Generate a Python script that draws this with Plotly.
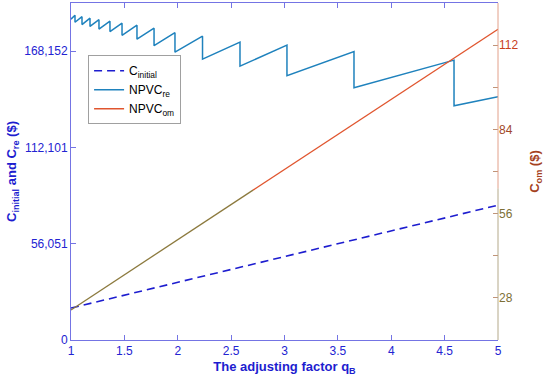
import plotly.graph_objects as go

# ---------------- data ----------------
q_init = [1.0, 5.0]
c_init = [18600, 78500]

q_re = [1.0, 1.0375, 1.0375, 1.103, 1.103, 1.178, 1.178, 1.262, 1.262,
        1.365, 1.365, 1.478, 1.478, 1.618, 1.618, 1.778, 1.778, 1.974, 1.974,
        2.232, 2.232, 2.583, 2.583, 3.023, 3.023, 3.651, 3.651, 4.588, 4.588, 5.0]
npvc_re = [186771, 189098, 184967, 188226, 183629, 187353, 182553, 186480, 181010,
           185607, 179556, 184443, 177345, 183280, 175134, 181534, 171352, 178916, 167570,
           176879, 163497, 173388, 159424, 171643, 153897, 167861, 146798, 162915, 136325, 141561]

q_om = [1.0, 2.705, 5.0]
npvc_om = [24.0, 63.8, 117.3]

x_ticks = [1, 1.5, 2, 2.5, 3, 3.5, 4, 4.5, 5]
x_ticktext = ["1", "1.5", "2", "2.5", "3", "3.5", "4", "4.5", "5"]
yl_ticks = [0, 56051, 112101, 168152]
yl_ticktext = ["0", "56,051", "112,101", "168,152"]
yr_ticks = [28, 42, 56, 70, 84, 98, 112]
yr_labels = ["28", "", "56", "", "84", "", "112"]
yr_colors = ["#7d6f35", "#7d6f35", "#7d6f35", "#8a5a2a", "#a2482a", "#b8421f", "#c8401c"]

# ---------------- figure ----------------
BLUE_TXT = "#2323d2"
AX_BLUE = "#7474e4"
RE_COL = "#1f82bd"
INIT_COL = "#1d1dcf"
OM_RED = "#e0552e"
OM_OLIVE = "#8c7a3e"

fig = go.Figure()
fig.add_trace(go.Scatter(x=q_init, y=c_init, mode="lines", name="C<sub>initial</sub>",
                         line=dict(color=INIT_COL, width=1.6, dash="8px,5px")))
fig.add_trace(go.Scatter(x=q_re, y=npvc_re, mode="lines", name="NPVC<sub>re</sub>",
                         line=dict(color=RE_COL, width=1.5)))
fig.add_trace(go.Scatter(x=q_om[1:], y=npvc_om[1:], mode="lines", name="NPVC<sub>om</sub>",
                         line=dict(color=OM_RED, width=1.3), yaxis="y2"))
fig.add_trace(go.Scatter(x=q_om[:2], y=npvc_om[:2], mode="lines", showlegend=False,
                         line=dict(color=OM_OLIVE, width=1.3), yaxis="y2"))

ticktext_r = [f"<span style='color:{c}'>{t}</span>" if t else "" for t, c in zip(yr_labels, yr_colors)]

fig.update_layout(
    width=550, height=382,
    margin=dict(l=71, r=52, t=3, b=42, autoexpand=False),
    plot_bgcolor="white", paper_bgcolor="white",
    font=dict(family="Liberation Sans, Arial, sans-serif", size=12, color=BLUE_TXT),
    showlegend=True,
    legend=dict(x=0.04, y=0.845, xanchor="left", yanchor="top",
                bgcolor="white", bordercolor="#a0a0a0", borderwidth=1,
                font=dict(size=12, color="black"), tracegroupgap=0,
                itemwidth=30),
    xaxis=dict(range=[1, 5], tickvals=x_ticks, ticktext=x_ticktext, automargin=False,
               ticks="inside", ticklen=5, tickcolor=AX_BLUE,
               showline=True, linecolor=AX_BLUE, linewidth=1, mirror="ticks",
               showgrid=False, zeroline=False,
               tickfont=dict(size=12, color=BLUE_TXT),
               title=dict(text="The adjusting factor q<sub>B</sub>",
                          font=dict(size=13, color=INIT_COL, weight="bold"), standoff=4)),
    yaxis=dict(range=[0, 196177], tickvals=yl_ticks, ticktext=yl_ticktext, automargin=False,
               ticks="inside", ticklen=5, tickcolor=AX_BLUE,
               showline=True, linecolor=AX_BLUE, linewidth=1,
               showgrid=False, zeroline=False,
               tickfont=dict(size=12, color=BLUE_TXT),
               title=dict(text="C<sub>initial</sub> and C<sub>re</sub> ($)",
                          font=dict(size=13, color=INIT_COL, weight="bold"), standoff=4)),
    yaxis2=dict(range=[14, 126], overlaying="y", side="right", automargin=False,
                tickvals=yr_ticks, ticktext=ticktext_r,
                ticks="inside", ticklen=5, tickcolor="#c09478",
                showline=False, showgrid=False, zeroline=False,
                tickfont=dict(size=12, color="#a0482a"),
                title=dict(text="C<sub>om</sub> ($)",
                           font=dict(size=13, color="#a5421e", weight="bold"), standoff=12)),
    shapes=[
        dict(type="line", xref="paper", yref="paper", x0=1, x1=1, y0=0, y1=0.45,
             line=dict(color="#b4a98a", width=1)),
        dict(type="line", xref="paper", yref="paper", x0=1, x1=1, y0=0.45, y1=1,
             line=dict(color="#e2a08a", width=1)),
    ],
)

fig.write_html("out.html", config={"displayModeBar": False},
               post_script="document.body.style.margin='0';document.body.style.padding='0';")
